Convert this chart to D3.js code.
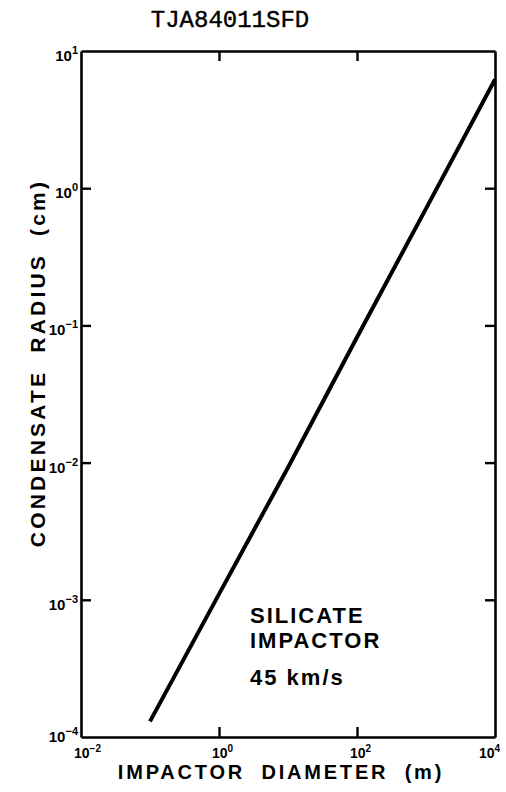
<!DOCTYPE html>
<html><head><meta charset="utf-8">
<script src="https://cdn.jsdelivr.net/npm/d3@7"></script>
<style>
html,body{margin:0;padding:0;background:#fff;}
svg{display:block;}
</style>
</head><body>
<svg id="c" width="506" height="792"></svg>
<script>
// ---- data ----
const title = "TJA84011SFD";
const xLabel = "IMPACTOR DIAMETER (m)";
const yLabel = "CONDENSATE RADIUS (cm)";
const diameter = [0.1, 1, 10, 100, 1000, 10000];          // m
const radius   = [1.3e-4, 1.1e-3, 9.2e-3, 0.082, 0.71, 6.2]; // cm
const xTickLabels = [-2, 0, 2, 4];          // exponents
const yTickLabels = [1, 0, -1, -2, -3, -4]; // exponents
const xInnerTicks = [1, 100];
const yInnerTicks = [1, 0.1, 0.01, 0.001];
const note = ["SILICATE", "IMPACTOR", "45 km/s"];

// ---- layout ----
const L = 81, R = 495, T = 51, B = 737;
const svg = d3.select("#c");
const x = d3.scaleLog().domain([1e-2, 1e4]).range([L, R]);
const y = d3.scaleLog().domain([1e-4, 1e1]).range([B, T]);
const font = "'Liberation Sans', Arial, sans-serif";

function styleAxis(g){
  g.selectAll(".domain").attr("stroke","#000").attr("stroke-width",2.6);
  g.selectAll(".tick line").attr("stroke","#000").attr("stroke-width",2.4);
  g.selectAll(".tick text").remove();
}
svg.append("g").attr("transform",`translate(0,${B})`)
  .call(d3.axisBottom(x).tickValues(xInnerTicks).tickSizeInner(-10).tickSizeOuter(0).tickFormat(""))
  .call(styleAxis);
svg.append("g").attr("transform",`translate(0,${T})`)
  .call(d3.axisTop(x).tickValues(xInnerTicks).tickSizeInner(-10).tickSizeOuter(0).tickFormat(""))
  .call(styleAxis);
svg.append("g").attr("transform",`translate(${L},0)`)
  .call(d3.axisLeft(y).tickValues(yInnerTicks).tickSizeInner(-10).tickSizeOuter(0).tickFormat(""))
  .call(styleAxis);
svg.append("g").attr("transform",`translate(${R},0)`)
  .call(d3.axisRight(y).tickValues(yInnerTicks).tickSizeInner(-10).tickSizeOuter(0).tickFormat(""))
  .call(styleAxis);

// x tick labels
xTickLabels.forEach(e=>{
  const t = svg.append("text").attr("x", Math.min(x(Math.pow(10,e)) - 7, 479)).attr("y", B + 21)
    .attr("font-family",font).attr("font-weight","bold").attr("font-size",14).attr("fill","#000");
  t.append("tspan").text("10");
  t.append("tspan").attr("dy",-6).attr("font-size",10).text(e < 0 ? "\u2212" + (-e) : e);
});
// y tick labels
yTickLabels.forEach(e=>{
  const yy = Math.min(y(Math.pow(10,e)) + 10, B + 5);
  const t = svg.append("text").attr("x", L - 3).attr("y", yy).attr("text-anchor","end")
    .attr("font-family",font).attr("font-weight","bold").attr("font-size",15).attr("fill","#000");
  t.append("tspan").text("10");
  t.append("tspan").attr("dy",-7).attr("font-size",11).text(e < 0 ? "\u2212" + (-e) : e);
});

// curve
const pts = diameter.map((d,i)=>[d, radius[i]]);
svg.append("path").datum(pts)
  .attr("d", d3.line().x(d=>x(d[0])).y(d=>y(d[1])))
  .attr("fill","none").attr("stroke","#000").attr("stroke-width",4).attr("stroke-linecap","butt");

// title
svg.append("text").attr("x",230).attr("y",27).attr("text-anchor","middle")
  .attr("font-family","'Liberation Mono','Courier New',monospace").attr("font-size",24)
  .attr("stroke","#000").attr("stroke-width",0.4)
  .attr("fill","#000").text(title);

// axis labels
svg.append("text").attr("x",281).attr("y",779).attr("text-anchor","middle")
  .attr("font-family",font).attr("font-weight","bold").attr("font-size",20)
  .attr("letter-spacing",2.8).attr("word-spacing",8).attr("fill","#000").text(xLabel);
svg.append("text").attr("transform","translate(45,363) rotate(-90)").attr("text-anchor","middle")
  .attr("font-family",font).attr("font-weight","bold").attr("font-size",21)
  .attr("letter-spacing",3.2).attr("word-spacing",8).attr("fill","#000").text(yLabel);

// annotation
const ny = [623, 648, 685];
note.forEach((s,i)=>{
  svg.append("text").attr("x",250).attr("y",ny[i])
    .attr("font-family",font).attr("font-weight","bold").attr("font-size",22)
    .attr("letter-spacing",2).attr("fill","#000").text(s);
});
</script>
</body></html>
